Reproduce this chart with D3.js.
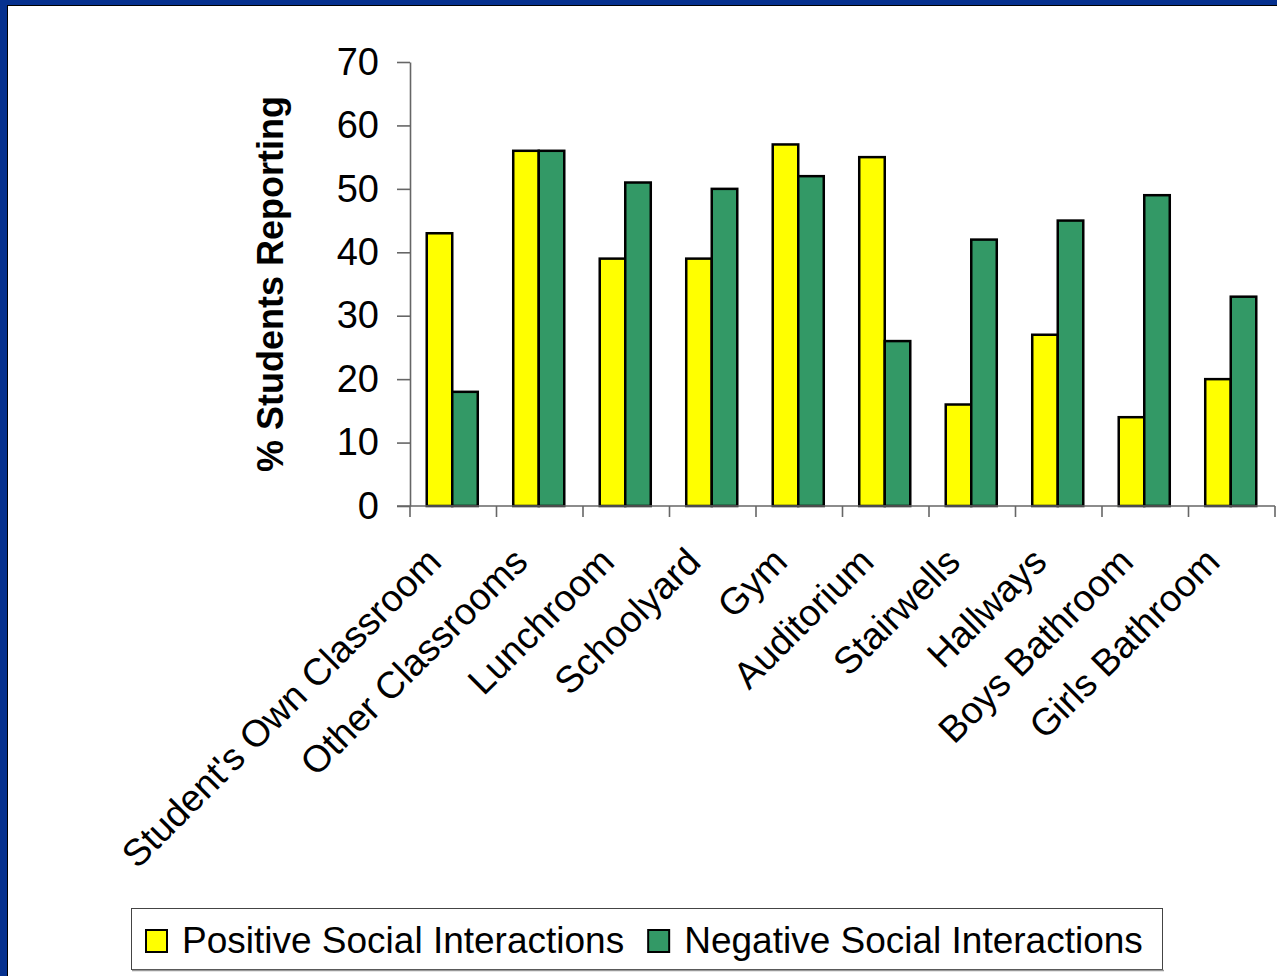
<!DOCTYPE html>
<html>
<head>
<meta charset="utf-8">
<script src="https://cdn.jsdelivr.net/npm/d3@7/dist/d3.min.js"></script>
<style>
  html, body { margin: 0; padding: 0; background: #fff; }
  svg { display: block; }
  text { font-family: "Liberation Sans", Arial, sans-serif; fill: #000; }
</style>
</head>
<body>
<svg id="chart" width="1277" height="976"></svg>
<script>
// Locations where students report social interactions
const categories = [
  "Student's Own Classroom", "Other Classrooms", "Lunchroom", "Schoolyard", "Gym",
  "Auditorium", "Stairwells", "Hallways", "Boys Bathroom", "Girls Bathroom"
];
const positiveValues = [43, 56, 39, 39, 57, 55, 16, 27, 14, 20];
const negativeValues = [18, 56, 51, 50, 52, 26, 42, 45, 49, 33];
const seriesNames = ["Positive Social Interactions", "Negative Social Interactions"];
const seriesColors = ["#FFFF00", "#339966"];
const yTicks = [0, 10, 20, 30, 40, 50, 60, 70];
const yTitle = "% Students Reporting";

const W = 1277, H = 976;
const svg = d3.select("#chart");

// Slide frame: dark blue band with a white panel
svg.append("rect").attr("x", 0).attr("y", 0).attr("width", W).attr("height", H).attr("fill", "#06318f");
svg.append("rect").attr("x", 7.5).attr("y", 5.5).attr("width", W).attr("height", H)
  .attr("fill", "#fff").attr("stroke", "#000").attr("stroke-width", 1);

const plot = { left: 410, right: 1275, top: 62, bottom: 506 };

const y = d3.scaleLinear().domain([0, 70]).range([plot.bottom, plot.top]);
const x = d3.scaleBand().domain(categories).range([plot.left, plot.right]).paddingInner(0).paddingOuter(0);
const bw = x.bandwidth();
const groupW = bw * 0.59;
const xs = d3.scaleBand().domain([0, 1]).range([(bw - groupW) / 2 - 1, (bw + groupW) / 2 - 1]);

// Bars
const rows = categories.map((c, i) => ({ c, vals: [positiveValues[i], negativeValues[i]] }));
const groups = svg.append("g").selectAll("g").data(rows).join("g")
  .attr("transform", d => `translate(${x(d.c)},0)`);
groups.selectAll("rect").data(d => d.vals.map((v, s) => ({ v, s }))).join("rect")
  .attr("x", d => xs(d.s))
  .attr("width", xs.bandwidth())
  .attr("y", d => y(d.v))
  .attr("height", d => y(0) - y(d.v))
  .attr("fill", d => seriesColors[d.s])
  .attr("stroke", "#000")
  .attr("stroke-width", 2.5);

// Y axis
const yAxis = d3.axisLeft(y).tickValues(yTicks).tickSize(13).tickPadding(18).tickSizeOuter(0);
const gy = svg.append("g").attr("transform", `translate(${plot.left},0)`).call(yAxis);
gy.select(".domain").attr("stroke", "#666").attr("stroke-width", 1.6);
gy.selectAll(".tick line").attr("stroke", "#666").attr("stroke-width", 1.6);
gy.selectAll(".tick text").attr("font-size", 38)
  .attr("font-family", '"Liberation Sans", Arial, sans-serif').attr("fill", "#000");

// X axis (ticks at category boundaries)
const gx = svg.append("g").attr("transform", `translate(0,${plot.bottom})`);
gx.append("line").attr("x1", plot.left - 13).attr("x2", plot.right)
  .attr("stroke", "#666").attr("stroke-width", 1.6);
const boundaries = categories.map(c => x(c)).concat([plot.right]);
gx.selectAll("line.tk").data(boundaries).join("line").attr("class", "tk")
  .attr("x1", d => d).attr("x2", d => d).attr("y1", 0).attr("y2", 11)
  .attr("stroke", "#666").attr("stroke-width", 1.6);

// Category labels rotated 45 degrees
svg.append("g").selectAll("text").data(categories).join("text")
  .attr("transform", c => `translate(${x(c) + bw / 2 - 10},564) rotate(-45)`)
  .attr("text-anchor", "end")
  .attr("font-size", 37.5)
  .text(c => c);

// Y axis title
svg.append("text")
  .attr("transform", `translate(283,${(plot.top + plot.bottom) / 2}) rotate(-90)`)
  .attr("text-anchor", "middle")
  .attr("font-size", 36)
  .attr("font-weight", "bold")
  .text(yTitle);

// Legend
const lg = svg.append("g");
lg.append("rect").attr("x", 131.5).attr("y", 908.5).attr("width", 1031).attr("height", 61)
  .attr("fill", "#fff").attr("stroke", "#444").attr("stroke-width", 1);
lg.append("line").attr("x1", 132).attr("x2", 1164).attr("y1", 970.5).attr("y2", 970.5)
  .attr("stroke", "#999").attr("stroke-width", 1.5);
let lx = 145;
seriesNames.forEach((name, i) => {
  lg.append("rect").attr("x", lx + 1).attr("y", 930).attr("width", 21).attr("height", 22)
    .attr("fill", seriesColors[i]).attr("stroke", "#000").attr("stroke-width", 2);
  const t = lg.append("text").attr("x", lx + 37).attr("y", 953).attr("font-size", 37).text(name);
  lx = lx + 37 + t.node().getComputedTextLength() + 23;
});
</script>
</body>
</html>
